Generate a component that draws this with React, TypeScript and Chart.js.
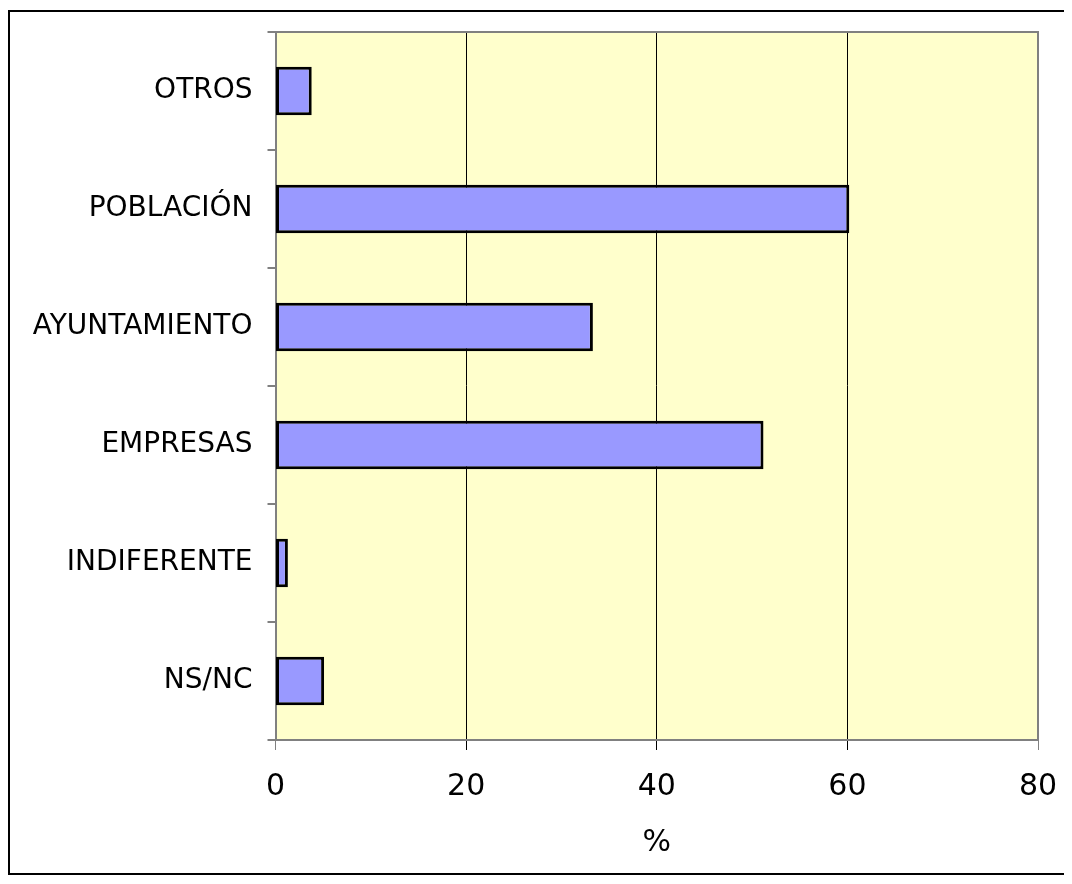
import React, { useEffect, useRef } from "react";
import { Chart, registerables } from "chart.js";

Chart.register(...registerables);

const categories = ["OTROS", "POBLACIÓN", "AYUNTAMIENTO", "EMPRESAS", "INDIFERENTE", "NS/NC"];
const values = [3.8, 60.2, 33.3, 51.2, 1.3, 5.1];
const xTicks = [0, 20, 40, 60, 80];
const xTitle = "%";

const FONT = "'DejaVu Sans', Verdana, sans-serif";

const plotPlugin = {
  id: "plotFrame",
  beforeDraw(chart: any) {
    const { ctx, chartArea } = chart;
    const { left, top, right, bottom } = chartArea;
    ctx.save();
    ctx.fillStyle = "#FFFFCC";
    ctx.fillRect(left, top, right - left, bottom - top);
    ctx.restore();
  },
  beforeDatasetsDraw(chart: any) {
    const { ctx, chartArea } = chart;
    const { left, top, right, bottom } = chartArea;
    ctx.save();
    ctx.strokeStyle = "#808080";
    ctx.lineWidth = 2;
    ctx.beginPath();
    ctx.moveTo(left, top);
    ctx.lineTo(right, top);
    ctx.lineTo(right, bottom);
    ctx.stroke();
    ctx.restore();
  },
};

export default function App() {
  const ref = useRef<HTMLCanvasElement | null>(null);

  useEffect(() => {
    const canvas = ref.current;
    if (!canvas) return;
    const chart = new Chart(canvas, {
      type: "bar",
      data: {
        labels: categories,
        datasets: [
          {
            data: values,
            backgroundColor: "#9999FF",
            borderColor: "#000000",
            borderWidth: 3,
            borderSkipped: false,
            barPercentage: 0.41,
            categoryPercentage: 1,
          },
        ],
      },
      options: {
        indexAxis: "y",
        responsive: false,
        animation: false,
        devicePixelRatio: 1,
        layout: { padding: { top: 20, right: 34, bottom: 0, left: 0 } },
        plugins: {
          legend: { display: false },
          tooltip: { enabled: false },
          title: { display: false },
        },
        scales: {
          x: {
            type: "linear",
            min: xTicks[0],
            max: xTicks[xTicks.length - 1],
            afterBuildTicks(scale: any) {
              scale.ticks = xTicks.map((v) => ({ value: v }));
            },
            afterFit(scale: any) {
              scale.height = 133;
              scale.paddingLeft = 0;
              scale.paddingRight = 0;
            },
            border: { color: "#808080", width: 2 },
            grid: {
              color: (c: any) =>
                c.tick && (c.tick.value === 0 || c.tick.value === 80) ? "rgba(0,0,0,0)" : "#000000",
              tickColor: (c: any) =>
                c.tick && (c.tick.value === 0 || c.tick.value === 80) ? "#808080" : "#000000",
              lineWidth: 1,
              tickLength: 10,
              drawTicks: true,
            },
            ticks: {
              color: "#000000",
              font: { family: FONT, size: 30 },
              padding: 19,
              maxRotation: 0,
            },
            title: {
              display: true,
              text: xTitle,
              color: "#000000",
              font: { family: FONT, size: 30 },
              padding: { top: 0, bottom: 12 },
            },
          },
          y: {
            type: "category",
            afterFit(scale: any) {
              scale.width = 265.5;
              scale.paddingTop = 0;
              scale.paddingBottom = 0;
            },
            border: { color: "#808080", width: 2 },
            grid: {
              offset: true,
              drawOnChartArea: false,
              drawTicks: true,
              tickLength: 8,
              tickColor: "#808080",
              lineWidth: 2,
            },
            ticks: {
              color: "#000000",
              font: { family: FONT, size: 28 },
              padding: 15,
            },
          },
        },
      },
      plugins: [plotPlugin],
    } as any);
    return () => chart.destroy();
  }, []);

  return (
    <div
      style={{
        marginTop: 2,
        width: 1064,
        height: 865,
        borderTop: "2px solid #000",
        borderLeft: "2px solid #000",
        borderBottom: "2px solid #000",
        boxSizing: "border-box",
        background: "#fff",
        overflow: "hidden",
      }}
    >
      <canvas ref={ref} width={1062} height={861} style={{ display: "block", width: 1062, height: 861 }} />
    </div>
  );
}
